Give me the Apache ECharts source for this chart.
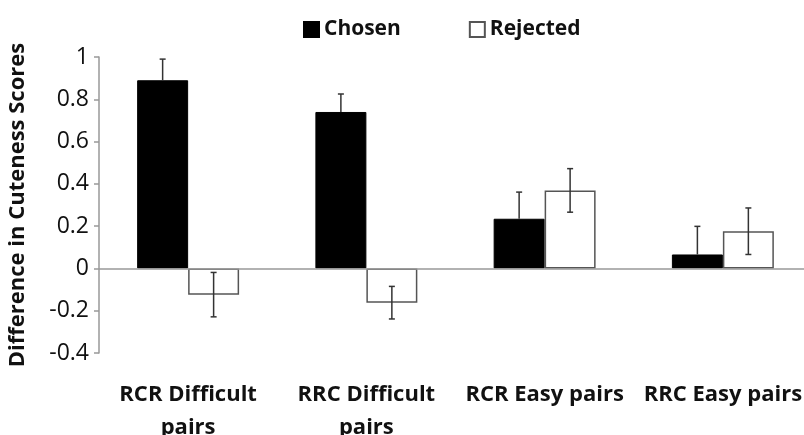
<!DOCTYPE html>
<html>
<head>
<meta charset="utf-8">
<script src="https://cdn.jsdelivr.net/npm/echarts@6/dist/echarts.min.js"></script>
<style>html,body{margin:0;padding:0;background:#fff;}#c{width:804px;height:435px;}</style>
</head>
<body>
<div id="c"></div>
<script>
var categories = ['RCR Difficult\npairs', 'RRC Difficult\npairs', 'RCR Easy pairs', 'RRC Easy pairs'];
var chosen = [0.89, 0.74, 0.235, 0.066];
var chosenErr = [0.10, 0.085, 0.126, 0.133];
var rejected = [-0.124, -0.162, 0.369, 0.176];
var rejectedErr = [0.105, 0.077, 0.103, 0.11];
var yTicks = [-0.4, -0.2, 0, 0.2, 0.4, 0.6, 0.8, 1];

var FONT = '"Open Sans", sans-serif';
var BAR_FRAC = 0.286;

function errItem(values, errs, side, upOnly) {
  return function (params, api) {
    var i = api.value(0);
    var v = values[i], e = errs[i];
    var band = api.size([1, 0])[0];
    var off = side * band * BAR_FRAC / 2;
    var top = api.coord([i, v + e]);
    var bot = api.coord([i, upOnly ? v : v - e]);
    var x = top[0] + off;
    var cap = 3;
    var style = { stroke: '#333', lineWidth: 1.5 };
    var children = [
      { type: 'line', shape: { x1: x, y1: top[1], x2: x, y2: bot[1] }, style: style },
      { type: 'line', shape: { x1: x - cap, y1: top[1], x2: x + cap, y2: top[1] }, style: style }
    ];
    if (!upOnly) {
      children.push({ type: 'line', shape: { x1: x - cap, y1: bot[1], x2: x + cap, y2: bot[1] }, style: style });
    }
    return { type: 'group', children: children };
  };
}

var chart = echarts.init(document.getElementById('c'));
chart.setOption({
  animation: false,
  backgroundColor: '#fff',
  legend: {
    data: ['Chosen', 'Rejected'],
    left: 298, top: 14,
    itemWidth: 15, itemHeight: 15, itemGap: 68,
    icon: 'rect',
    textStyle: { fontFamily: FONT, fontSize: 21, fontWeight: 'bold', color: '#111' }
  },
  grid: { left: 99, right: -8, top: 57, bottom: 82, outerBoundsMode: 'none', containLabel: false },
  xAxis: {
    type: 'category',
    data: categories,
    axisLine: { show: false, onZero: false },
    axisTick: { show: false },
    axisLabel: { interval: 0, margin: 25, fontFamily: FONT, fontSize: 22, fontWeight: 'bold', color: '#111', lineHeight: 33 }
  },
  yAxis: {
    type: 'value',
    min: -0.4, max: 1, interval: 0.2,
    name: 'Difference in Cuteness Scores',
    nameLocation: 'middle', nameGap: 70,
    nameTextStyle: { fontFamily: FONT, fontSize: 22, fontWeight: 'bold', color: '#111' },
    axisLine: { show: true, lineStyle: { color: '#999', width: 1.5 } },
    axisTick: { show: true, length: 5, lineStyle: { color: '#999', width: 1.5 } },
    splitLine: { show: false },
    axisLabel: {
      fontFamily: FONT, fontSize: 23, color: '#111', margin: 10,
      formatter: function (v) { var r = Math.round(v * 10) / 10; return yTicks.indexOf(r) >= 0 ? String(r) : ''; }
    }
  },
  series: [
    {
      name: 'Chosen', type: 'bar', data: chosen,
      barWidth: (BAR_FRAC * 100) + '%', barGap: '0%',
      itemStyle: { color: '#000', borderColor: '#000', borderWidth: 1 },
      markLine: {
        silent: true, symbol: 'none',
        label: { show: false },
        lineStyle: { color: '#999', width: 1.5, type: 'solid' },
        data: [{ yAxis: 0 }]
      },
      z: 2
    },
    {
      name: 'Rejected', type: 'bar', data: rejected,
      barWidth: (BAR_FRAC * 100) + '%', barGap: '0%',
      itemStyle: { color: '#fff', borderColor: '#555', borderWidth: 1.5 },
      z: 2
    },
    {
      type: 'custom', name: 'chosenErr',
      data: chosen.map(function (v, i) { return [i, v]; }),
      renderItem: errItem(chosen, chosenErr, -1, true),
      z: 5
    },
    {
      type: 'custom', name: 'rejectedErr',
      data: rejected.map(function (v, i) { return [i, v]; }),
      renderItem: errItem(rejected, rejectedErr, 1, false),
      z: 5
    }
  ]
});
</script>
</body>
</html>
